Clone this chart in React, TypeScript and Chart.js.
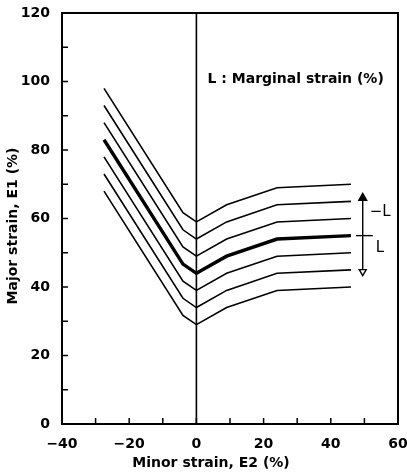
import React, { useEffect, useRef } from 'react';
import { Chart, registerables } from 'chart.js';

Chart.register(...registerables);

// Minor strain E2 (%) at the bend points of every curve
const E2_POINTS = [-27.5, -4, 0, 9, 24, 46];
// Major strain E1 (%) for each marginal strain L
const E1_L_MINUS15 = [98, 61.7, 59, 64, 69, 70];
const E1_L_MINUS10 = [93, 56.7, 54, 59, 64, 65];
const E1_L_MINUS5 = [88, 51.7, 49, 54, 59, 60];
const E1_L_0 = [83, 46.7, 44, 49, 54, 55];
const E1_L_5 = [78, 41.7, 39, 44, 49, 50];
const E1_L_10 = [73, 36.7, 34, 39, 44, 45];
const E1_L_15 = [68, 31.7, 29, 34, 39, 40];

const CURVES = [E1_L_MINUS15, E1_L_MINUS10, E1_L_MINUS5, E1_L_0, E1_L_5, E1_L_10, E1_L_15];
const THICK_INDEX = 3;

// vertical axis line at E2 = 0
const ZERO_LINE_X = [0, 0];
const ZERO_LINE_Y = [0, 120];

// marginal strain indicator
const ARROW_X = 49.5;
const ARROW_BASE = 55;
const ARROW_UP_TIP = 66;
const ARROW_DOWN_TIP = 44.5;
const BAR_X = [47.5, 52.5];

const X_MIN = -40, X_MAX = 60, X_STEP = 10, X_LABEL_EVERY = 20;
const Y_MIN = 0, Y_MAX = 120, Y_STEP = 10, Y_LABEL_EVERY = 20;

const X_TITLE = 'Minor strain, E2 (%)';
const Y_TITLE = 'Major strain, E1 (%)';
const NOTE = 'L : Marginal strain (%)';
const NOTE_POS = { x: 3.3, y: 100.5 };
const MINUS_L_POS = { x: 51.6, y: 62 };
const L_POS = { x: 53.4, y: 51.4 };

const FONT = '"DejaVu Sans", "Liberation Sans", sans-serif';

const fmt = (v: number) => (v < 0 ? '\u2212' + Math.abs(v) : String(v));

const decor = {
  id: 'decor',
  afterDraw(chart: any) {
    const { ctx, chartArea: a, scales } = chart;
    const x = scales.x, y = scales.y;
    ctx.save();
    ctx.strokeStyle = '#000';
    ctx.lineWidth = 2;
    ctx.strokeRect(a.left, a.top, a.right - a.left, a.bottom - a.top);
    ctx.lineWidth = 1.5;
    ctx.beginPath();
    x.ticks.forEach((t: any) => {
      const px = x.getPixelForValue(t.value);
      ctx.moveTo(px, a.bottom);
      ctx.lineTo(px, a.bottom - 6);
    });
    y.ticks.forEach((t: any) => {
      const py = y.getPixelForValue(t.value);
      ctx.moveTo(a.left, py);
      ctx.lineTo(a.left + 6, py);
    });
    ctx.stroke();

    ctx.fillStyle = '#000';
    ctx.textBaseline = 'middle';
    ctx.textAlign = 'left';
    ctx.font = 'bold 14px ' + FONT;
    ctx.fillText(NOTE, x.getPixelForValue(NOTE_POS.x), y.getPixelForValue(NOTE_POS.y));
    ctx.font = '15px ' + FONT;
    ctx.fillText('\u2212L', x.getPixelForValue(MINUS_L_POS.x), y.getPixelForValue(MINUS_L_POS.y));
    ctx.fillText('L', x.getPixelForValue(L_POS.x), y.getPixelForValue(L_POS.y));

    ctx.font = 'bold 14px ' + FONT;
    ctx.textAlign = 'center';
    ctx.fillText(X_TITLE, 211, 463);
    ctx.save();
    ctx.translate(13, 226);
    ctx.rotate(-Math.PI / 2);
    ctx.fillText(Y_TITLE, 0, 0);
    ctx.restore();
    ctx.restore();
  },
};

export default function App() {
  const ref = useRef<HTMLCanvasElement | null>(null);
  useEffect(() => {
    if (!ref.current) return;
    Chart.defaults.font.family = FONT;
    const line = (xs: number[], ys: number[]) => xs.map((v, i) => ({ x: v, y: ys[i] }));
    const datasets: any[] = CURVES.map((c, i) => ({
      data: line(E2_POINTS, c),
      borderColor: '#000',
      borderWidth: i === THICK_INDEX ? 3.4 : 1.6,
      pointRadius: 0,
      tension: 0,
    }));
    datasets.push({
      data: line(ZERO_LINE_X, ZERO_LINE_Y),
      borderColor: '#000',
      borderWidth: 1.6,
      pointRadius: 0,
    });
    datasets.push({
      data: line([ARROW_X, ARROW_X], [ARROW_BASE, ARROW_UP_TIP]),
      borderColor: '#000',
      backgroundColor: '#000',
      borderWidth: 1.4,
      pointStyle: 'triangle',
      pointRadius: [0, 4.5],
      pointRotation: 0,
    });
    datasets.push({
      data: line([ARROW_X, ARROW_X], [ARROW_BASE, ARROW_DOWN_TIP]),
      borderColor: '#000',
      backgroundColor: '#fff',
      borderWidth: 1.4,
      pointStyle: 'triangle',
      pointRadius: [0, 4],
      pointRotation: 180,
    });
    datasets.push({
      data: line(BAR_X, [ARROW_BASE, ARROW_BASE]),
      borderColor: '#000',
      borderWidth: 1.4,
      pointRadius: 0,
    });

    const chart = new Chart(ref.current, {
      type: 'line',
      data: { datasets },
      plugins: [decor],
      options: {
        animation: false,
        responsive: true,
        maintainAspectRatio: false,
        layout: { padding: { top: 13, right: 0, left: 0, bottom: 0 } },
        plugins: { legend: { display: false }, tooltip: { enabled: false } },
        scales: {
          x: {
            type: 'linear',
            min: X_MIN,
            max: X_MAX,
            afterFit: (s: any) => { s.height = 49; s.paddingRight = 9; s.paddingLeft = 0; },
            grid: { display: false },
            border: { display: true, color: '#000', width: 2 },
            ticks: {
              stepSize: X_STEP,
              autoSkip: false,
              maxRotation: 0,
              padding: 4,
              color: '#000',
              font: { size: 14, weight: 'bold', family: FONT },
              callback: (v: any) => (v % X_LABEL_EVERY === 0 ? fmt(v) : ''),
            },
          },
          y: {
            type: 'linear',
            min: Y_MIN,
            max: Y_MAX,
            afterFit: (s: any) => { s.width = 62; },
            grid: { display: false },
            border: { display: true, color: '#000', width: 2 },
            ticks: {
              stepSize: Y_STEP,
              autoSkip: false,
              padding: 4,
              color: '#000',
              font: { size: 14, weight: 'bold', family: FONT },
              callback: (v: any) => (v % Y_LABEL_EVERY === 0 ? fmt(v) : ''),
            },
          },
        },
      },
    });
    return () => chart.destroy();
  }, []);

  return (
    <div style={{ position: 'absolute', left: 0, top: 0, width: 407, height: 473, background: '#fff' }}>
      <canvas ref={ref} />
    </div>
  );
}
